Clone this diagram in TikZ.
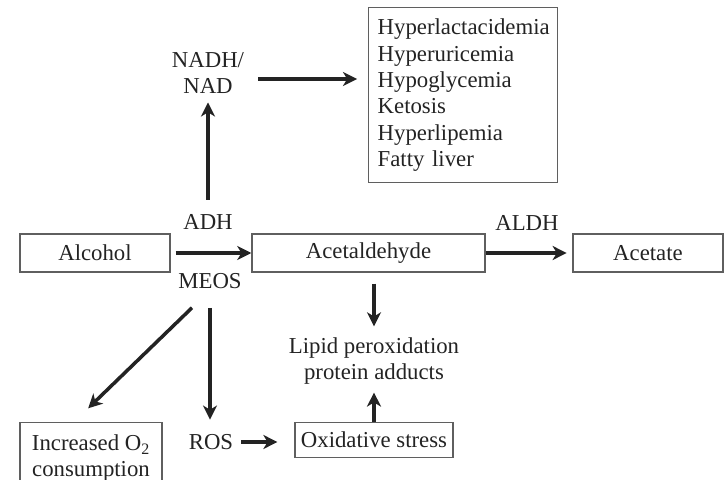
\documentclass[tikz,border=0pt]{standalone}
\usepackage{fontspec}
\setmainfont{Liberation Serif}
\usetikzlibrary{calc,arrows.meta,positioning}
\definecolor{ink}{RGB}{35,35,35}
\definecolor{frame}{RGB}{95,95,95}

\begin{document}
\begin{tikzpicture}[x=0.025cm,y=-0.025cm,
    font=\fontsize{16.2}{18.8}\selectfont,text=ink,
    pbox/.style={draw=frame,line width=1pt,minimum height=0.95cm,inner sep=0pt},
    lbl/.style={align=center,inner sep=2pt},
    flow/.style={draw=ink,line width=2.5pt,-{Stealth[length=10pt,width=10pt,inset=3pt]}}]
    \useasboundingbox (0,0) rectangle (726,480);
    \clip (0,0) rectangle (726,480);
    % main pathway
    \node[pbox,minimum width=3.75cm] (alcohol) at (95,253) {Alcohol};
    \node[pbox,minimum width=5.825cm] (acetald) at (368.5,253) {Acetaldehyde};
    \node[pbox,minimum width=3.75cm] (acetate) at (648,253) {Acetate};
    \node[lbl] (adh) at (208,222) {ADH};
    \node[lbl] (meos) at (210,281) {MEOS};
    \node[lbl] (aldh) at (527,223) {ALDH};
    \draw[flow,shorten <=3.5pt] (alcohol.east) -- (acetald.west);
    \draw[flow,shorten >=4pt] (acetald.east) -- (acetate.west);
    % redox branch
    \node[lbl] (nadh) at (208,73) {NADH/\\NAD};
    \node[pbox,anchor=north west,minimum height=4.375cm,text width=4.275cm,
      inner xsep=0.225cm,align=left] (effects) at (368,7)
      {Hyperlactacidemia\\Hyperuricemia\\Hypoglycemia\\Ketosis\\Hyperlipemia\\Fatty liver};
    \draw[flow,shorten <=8.3pt,shorten >=4pt] (adh.north) -- (nadh.south);
    \coordinate (redox) at ($(nadh.east)+(0,6)$);
    \draw[flow,shorten <=7.8pt,shorten >=7.8pt] (redox) -- (redox -| effects.west);
    % damage branch
    \node[lbl] (lipid) at (374,361) {Lipid peroxidation\\protein adducts};
    \node[pbox,minimum width=3.95cm,minimum height=0.875cm] (oxstress) at (374,440) {Oxidative stress};
    \draw[flow,shorten <=7.8pt,shorten >=5.7pt] (acetald.south -| lipid.north) -- (lipid.north);
    \draw[flow,shorten >=3.5pt] (oxstress.north) -- (lipid.south);
    % MEOS branch
    \node[lbl] (ros) at (211,442) {ROS};
    \node[pbox,anchor=north,minimum width=3.55cm,inner ysep=8.5pt,align=center] (oxygen) at (91,422)
      {Increased O\textsubscript{2}\\consumption};
    \draw[flow,shorten <=11.4pt,shorten >=8.3pt] (meos.south) -- (meos.south |- ros.north);
    \draw[flow,shorten <=3.5pt,shorten >=12pt] (ros.east) -- (ros.east -| oxstress.west);
    \draw[flow,shorten >=14pt] ($(meos.south)+(-18,16)$) -- ($(oxygen.north)+(-17,0)$);
\end{tikzpicture}
\end{document}
